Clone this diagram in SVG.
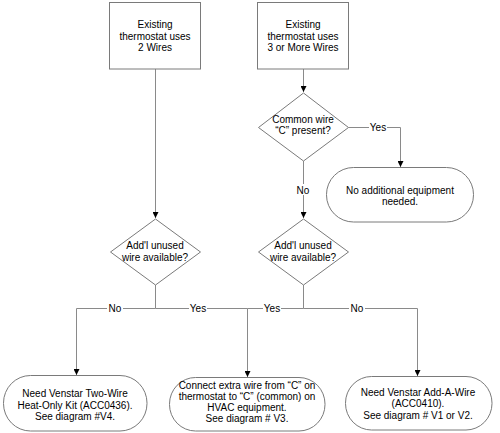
<svg xmlns="http://www.w3.org/2000/svg" width="500" height="433" viewBox="0 0 500 433">
<style>
.shape{fill:#fff;stroke:#7a7a7a;stroke-width:1}
.conn{fill:none;stroke:#8a8a8a;stroke-width:1}
text{font-family:"Liberation Sans",Arial,sans-serif;font-size:10px;fill:#000;text-anchor:middle}
.lbg{fill:#fff;stroke:none}
</style>
<defs>
<marker id="arr" markerUnits="userSpaceOnUse" markerWidth="6" markerHeight="6" viewBox="0 0 6 6" refX="6" refY="3" orient="auto">
<path d="M0,0 L6,3 L0,6 Z" fill="#000"/>
</marker>
</defs>
<rect width="500" height="433" fill="#fff"/>
<g id="connectors">
<path class="conn" d="M155.5,69 V218" marker-end="url(#arr)"/>
<path class="conn" d="M303.5,69 V92" marker-end="url(#arr)"/>
<path class="conn" d="M348.5,127.5 H400.5 V167" marker-end="url(#arr)"/>
<path class="conn" d="M303.5,161 V218" marker-end="url(#arr)"/>
<path class="conn" d="M155.5,285 V308.5 H76.5 V375" marker-end="url(#arr)"/>
<path class="conn" d="M155.5,308.5 H247.5 V377" marker-end="url(#arr)"/>
<path class="conn" d="M303.5,285 V308.5 H247.5"/>
<path class="conn" d="M303.5,308.5 H417.5 V376" marker-end="url(#arr)"/>
<rect class="lbg" x="369" y="122" width="18" height="10"/>
<text x="378" y="131">Yes</text>
<rect class="lbg" x="296" y="184" width="15" height="11"/>
<text x="303" y="193.5">No</text>
<rect class="lbg" x="107" y="303" width="16" height="10"/>
<text x="115" y="312">No</text>
<rect class="lbg" x="189" y="303" width="18" height="10"/>
<text x="198" y="312">Yes</text>
<rect class="lbg" x="263" y="303" width="18" height="10"/>
<text x="272" y="312">Yes</text>
<rect class="lbg" x="349" y="303" width="16" height="10"/>
<text x="357" y="312">No</text>
</g>
<g id="n1">
<rect class="shape" x="109.5" y="2.5" width="91" height="66.5"/>
<text x="155" y="28">Existing</text>
<text x="155" y="39.5">thermostat uses</text>
<text x="155" y="51">2 Wires</text>
</g>
<g id="n2">
<rect class="shape" x="257.5" y="2.5" width="91" height="66.5"/>
<text x="303" y="28">Existing</text>
<text x="303" y="39.5">thermostat uses</text>
<text x="303" y="51">3 or More Wires</text>
</g>
<g id="n3">
<polygon class="shape" points="303.5,93 348.5,127.5 303.5,161 258.5,127.5"/>
<text x="303" y="122.5">Common wire</text>
<text x="303" y="134">“C” present?</text>
</g>
<g id="n4">
<rect class="shape" x="326.5" y="167.5" width="147" height="54.5" rx="27" ry="27"/>
<text x="400" y="193.5">No additional equipment</text>
<text x="400" y="205">needed.</text>
</g>
<g id="n5">
<polygon class="shape" points="155.5,219 200.5,252 155.5,285 110.5,252"/>
<text x="155" y="248.5">Add'l unused</text>
<text x="155" y="260.5">wire available?</text>
</g>
<g id="n6">
<polygon class="shape" points="303.5,219 348.5,252 303.5,285 258.5,252"/>
<text x="303" y="248.5">Add'l unused</text>
<text x="303" y="260.5">wire available?</text>
</g>
<g id="n7">
<rect class="shape" x="3.5" y="375.5" width="143.5" height="55.5" rx="27" ry="27.5"/>
<text x="75" y="397">Need Venstar Two-Wire</text>
<text x="75" y="408.5">Heat-Only Kit (ACC0436).</text>
<text x="75" y="420">See diagram #V4.</text>
</g>
<g id="n8">
<rect class="shape" x="169.5" y="377.5" width="155.5" height="53.5" rx="26" ry="26.5"/>
<text x="247" y="388.5">Connect extra wire from “C” on</text>
<text x="247" y="399.5">thermostat to “C” (common) on</text>
<text x="247" y="411">HVAC equipment.</text>
<text x="247" y="422">See diagram # V3.</text>
</g>
<g id="n9">
<rect class="shape" x="345.5" y="376.5" width="146.5" height="53.5" rx="26" ry="26.5"/>
<text x="418" y="395.5">Need Venstar Add-A-Wire</text>
<text x="418" y="407">(ACC0410).</text>
<text x="418" y="418.5">See diagram # V1 or V2.</text>
</g>
</svg>
